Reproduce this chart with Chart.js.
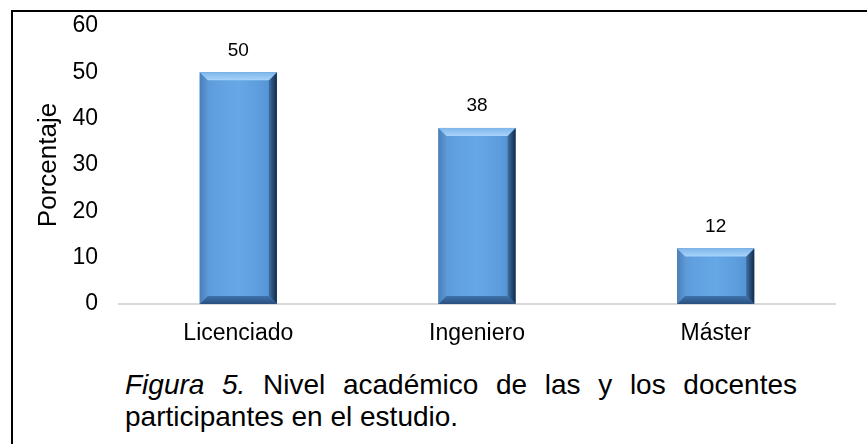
<!DOCTYPE html>
<html><head><meta charset="utf-8">
<script src="https://cdn.jsdelivr.net/npm/chart.js@4"></script>
<style>
html,body{margin:0;padding:0;background:#fff;}
body{width:867px;height:444px;position:relative;overflow:hidden;font-family:"Liberation Sans",Arial,sans-serif;}
#frame{position:absolute;left:11px;top:10px;width:870px;height:450px;border-left:2px solid #000;border-top:2px solid #000;}
#wrap{position:absolute;left:0;top:0;width:867px;height:360px;}
#caption{position:absolute;left:125px;top:369px;width:672px;font-size:28px;line-height:32px;color:#000;}
#caption .l1{text-align:justify;text-align-last:justify;}
#caption .l2{text-align:left;}
</style></head><body>
<div id="frame"></div>
<div id="wrap"><canvas id="c"></canvas></div>
<div id="caption"><div class="l1"><i>Figura 5.</i> Nivel académico de las y los docentes</div><div class="l2">participantes en el estudio.</div></div>
<script>
const categories = ['Licenciado', 'Ingeniero', 'Máster'];
const values = [50, 38, 12];
const yTickValues = [0, 10, 20, 30, 40, 50, 60];
const yTitle = 'Porcentaje';

const FONT = '"Liberation Sans", Arial, sans-serif';

const bevelPlugin = {
  id: 'bevel',
  afterDatasetsDraw(chart) {
    const ctx = chart.ctx;
    const meta = chart.getDatasetMeta(0);
    meta.data.forEach((bar) => {
      const p = bar.getProps(['x', 'y', 'base', 'width'], true);
      const l = p.x - p.width / 2, r = p.x + p.width / 2, t = p.y, b = p.base;
      const h = b - t;
      const d = Math.min(8, h / 3);
      ctx.save();
      let g = ctx.createLinearGradient(l, 0, r, 0);
      g.addColorStop(0, '#5a92cc');
      g.addColorStop(0.2, '#60a0e0');
      g.addColorStop(0.5, '#66a7e6');
      g.addColorStop(0.8, '#5c9cdc');
      g.addColorStop(1, '#4f8ccb');
      ctx.fillStyle = g;
      ctx.fillRect(l, t, r - l, h);
      g = ctx.createLinearGradient(l, 0, l + d, 0);
      g.addColorStop(0, '#4a7fb8');
      g.addColorStop(1, '#5c98d6');
      ctx.fillStyle = g;
      ctx.beginPath();
      ctx.moveTo(l, t); ctx.lineTo(l + d, t + d); ctx.lineTo(l + d, b - d); ctx.lineTo(l, b); ctx.closePath();
      ctx.fill();
      g = ctx.createLinearGradient(r - d, 0, r, 0);
      g.addColorStop(0, '#3e6fa6');
      g.addColorStop(1, '#142b48');
      ctx.fillStyle = g;
      ctx.beginPath();
      ctx.moveTo(r, t); ctx.lineTo(r, b); ctx.lineTo(r - d, b - d); ctx.lineTo(r - d, t + d); ctx.closePath();
      ctx.fill();
      g = ctx.createLinearGradient(0, b - d, 0, b);
      g.addColorStop(0, '#3f73ab');
      g.addColorStop(1, '#2a4f7e');
      ctx.fillStyle = g;
      ctx.beginPath();
      ctx.moveTo(l, b); ctx.lineTo(r, b); ctx.lineTo(r - d, b - d); ctx.lineTo(l + d, b - d); ctx.closePath();
      ctx.fill();
      g = ctx.createLinearGradient(0, t, 0, t + d);
      g.addColorStop(0, '#7fb6ea');
      g.addColorStop(1, '#a6d3fa');
      ctx.fillStyle = g;
      ctx.beginPath();
      ctx.moveTo(l, t); ctx.lineTo(r, t); ctx.lineTo(r - d, t + d); ctx.lineTo(l + d, t + d); ctx.closePath();
      ctx.fill();
      ctx.restore();
    });
  }
};

const valueLabelPlugin = {
  id: 'valueLabels',
  afterDatasetsDraw(chart) {
    const ctx = chart.ctx;
    const meta = chart.getDatasetMeta(0);
    const data = chart.data.datasets[0].data;
    ctx.save();
    ctx.font = '19px ' + FONT;
    ctx.fillStyle = '#000';
    ctx.textAlign = 'center';
    ctx.textBaseline = 'middle';
    meta.data.forEach((bar, i) => {
      const p = bar.getProps(['x', 'y'], true);
      ctx.fillText(String(data[i]), p.x, p.y - 22);
    });
    ctx.restore();
  }
};

new Chart(document.getElementById('c'), {
  type: 'bar',
  data: {
    labels: categories,
    datasets: [{
      data: values,
      backgroundColor: '#5b9bd5',
      borderWidth: 0,
      barPercentage: 0.323,
      categoryPercentage: 1
    }]
  },
  options: {
    responsive: true,
    maintainAspectRatio: false,
    animation: false,
    devicePixelRatio: 1,
    layout: { autoPadding: false, padding: { left: 20, top: 26, right: 32, bottom: 0 } },
    plugins: { legend: { display: false }, tooltip: { enabled: false } },
    scales: {
      x: {
        grid: { display: false, drawTicks: false },
        border: { display: true, color: '#d9d9d9', width: 2 },
        ticks: { color: '#000', font: { size: 23, family: FONT }, padding: 16 },
        afterFit: (s) => { s.height = 56; s.paddingLeft = 0; s.paddingRight = 0; s.paddingTop = 0; s.paddingBottom = 0; }
      },
      y: {
        min: 0, max: 60,
        afterBuildTicks: (s) => { s.ticks = yTickValues.map(v => ({ value: v })); },
        grid: { display: false, drawTicks: false },
        border: { display: false },
        ticks: { color: '#000', font: { size: 23, family: FONT }, padding: 21 },
        title: { display: true, text: yTitle, color: '#000', font: { size: 26, family: FONT }, padding: { top: 13, bottom: 0 } },
        afterFit: (s) => { s.width = 99; s.paddingTop = 0; s.paddingBottom = 0; s.paddingLeft = 0; s.paddingRight = 0; }
      }
    }
  },
  plugins: [bevelPlugin, valueLabelPlugin]
});
</script>
</body></html>
